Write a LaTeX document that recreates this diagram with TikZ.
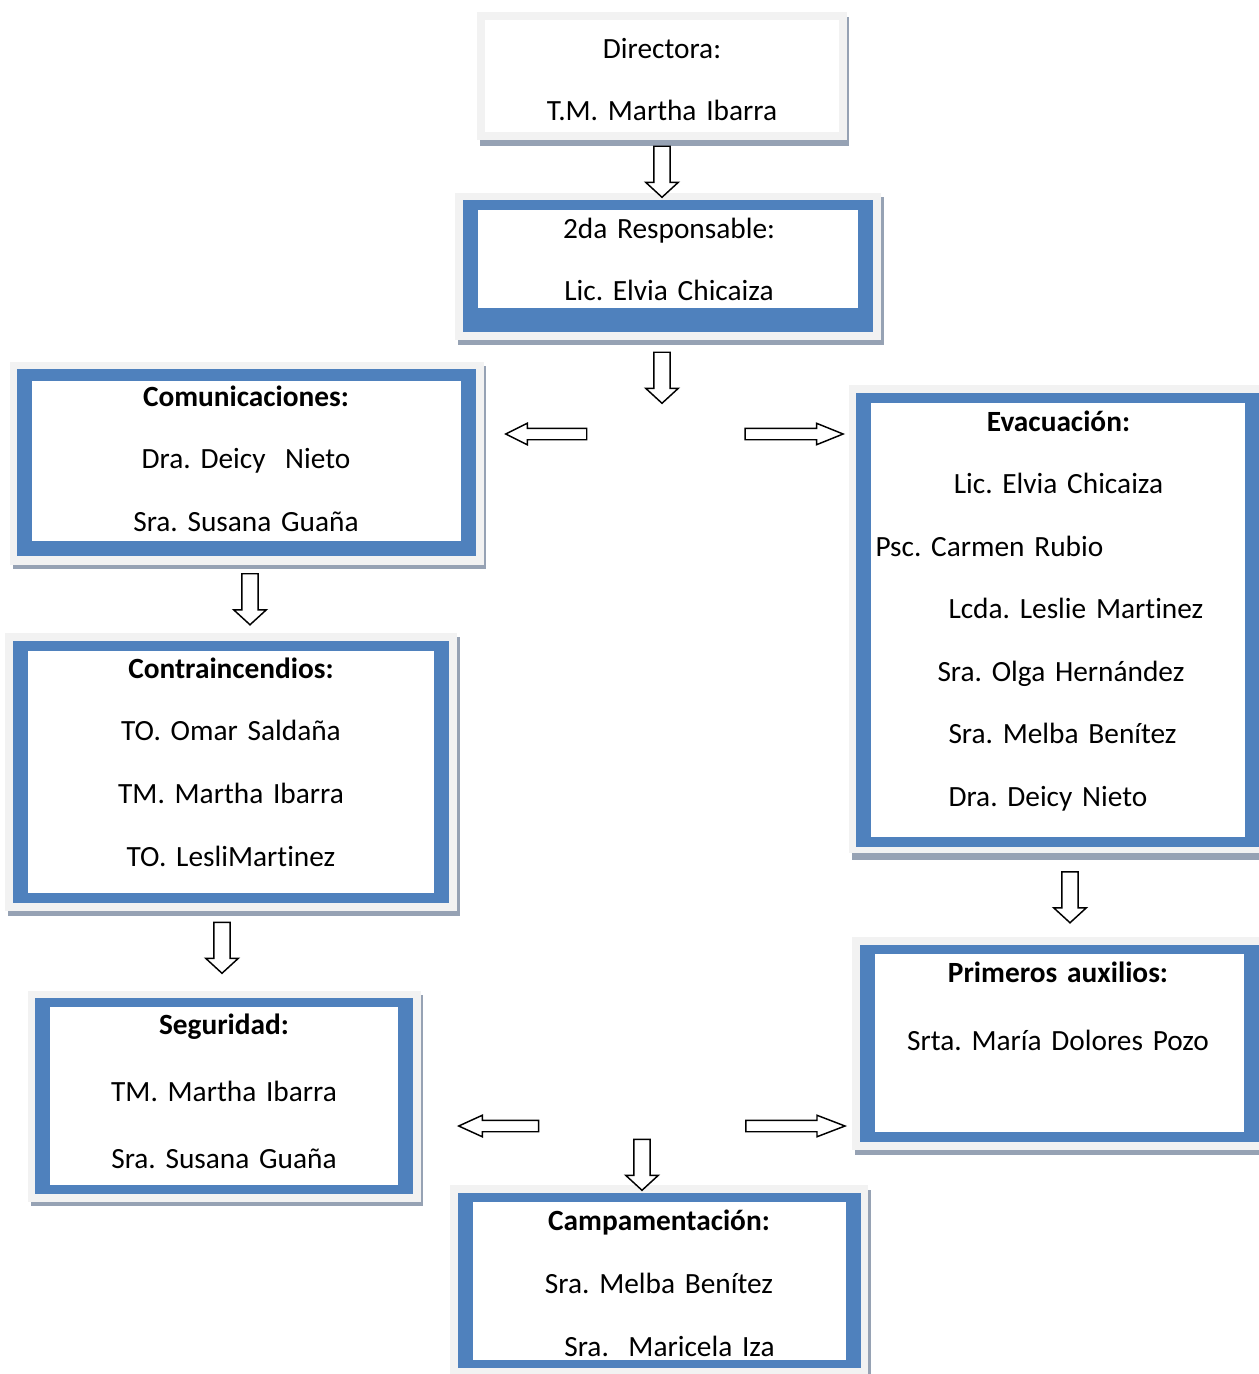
\documentclass[tikz,border=0pt]{standalone}
\usepackage{fontspec}
\setmainfont{Carlito}[Ligatures=NoCommon]
\frenchspacing
\usetikzlibrary{shapes.arrows}

\definecolor{azul}{RGB}{79,129,189}
\definecolor{marco}{RGB}{242,242,242}
\definecolor{sombra}{RGB}{150,162,180}

\tikzset{every picture/.style={line width=0.75pt}}
\tikzset{
  texto/.style={inner sep=0pt, align=center, text width=260pt, font=\fontsize{22}{46.5}\selectfont},
  flechav/.style={single arrow, draw, fill=white, line width=1.1pt, shape border rotate=270, inner sep=5.6pt, single arrow head extend=6pt, single arrow tip angle=95, minimum height=38.25pt},
  flechah/.style={single arrow, draw, fill=white, line width=1.1pt, inner sep=3.75pt, single arrow head extend=3.75pt},
}

\begin{document}
\begin{tikzpicture}[x=0.75pt,y=0.75pt,yscale=-1,xscale=1]
\useasboundingbox (0,0) rectangle (1259,1374);

%Shape: Rectangle [Directora]
\fill [sombra] (480,17) rectangle (849,146);
\fill [marco] (477,12) rectangle (847,140);
\fill [white] (485,20) rectangle (839,132);
%Shape: Rectangle [2da Responsable]
\fill [sombra] (458,197) rectangle (884,345);
\fill [marco] (455,193) rectangle (881,340);
\fill [azul] (463,200) rectangle (873,332);
\fill [white] (478,210) rectangle (858,308);
%Shape: Rectangle [Comunicaciones]
\fill [sombra] (13,366) rectangle (486,569);
\fill [marco] (10,362) rectangle (484,565);
\fill [azul] (17,369) rectangle (476,556);
\fill [white] (32,381) rectangle (461,541);
%Shape: Rectangle [Evacuacion]
\fill [sombra] (852,390) rectangle (1262,860);
\fill [marco] (849,385) rectangle (1262,853);
\fill [azul] (856,393) rectangle (1262,847);
\fill [white] (871,403) rectangle (1245,837);
%Shape: Rectangle [Primeros auxilios]
\fill [sombra] (855,942) rectangle (1262,1155);
\fill [marco] (852,937) rectangle (1262,1150);
\fill [azul] (860,945) rectangle (1262,1142);
\fill [white] (875,954) rectangle (1244,1132);
%Shape: Rectangle [Contraincendios]
\fill [sombra] (8,637) rectangle (460,916);
\fill [marco] (5,633) rectangle (457,911);
\fill [azul] (13,641) rectangle (449,903);
\fill [white] (28,651) rectangle (434,893);
%Shape: Rectangle [Seguridad]
\fill [sombra] (31,995) rectangle (423,1206);
\fill [marco] (28,991) rectangle (421,1202);
\fill [azul] (35,998) rectangle (413,1194);
\fill [white] (50,1007) rectangle (398,1185);
%Shape: Rectangle [Campamentacion]
\fill [sombra] (453,1190) rectangle (871,1380);
\fill [marco] (450,1185) rectangle (868,1376);
\fill [azul] (458,1193) rectangle (861,1368);
\fill [white] (473,1202) rectangle (846,1360);

% Text Node
\node [texto, anchor=base] (dir) at (662,58) {Directora:\\T.M. Martha Ibarra};
% Text Node
\node [texto, anchor=base] (resp) at (669,238) {2da Responsable:\\Lic. Elvia Chicaiza};
% Text Node
\node [texto, anchor=base, font=\fontsize{22}{46.9}\selectfont] (com) at (246,406) {\textbf{Comunicaciones:}\\Dra. Deicy~ Nieto\\Sra. Susana Guaña};
% Text Node
\node [texto, anchor=base west, align=left, text width=280.5pt, font=\fontsize{22}{46.9}\selectfont] (evac) at (871,431) {\makebox[\linewidth]{\textbf{Evacuación:}}\\\makebox[\linewidth]{Lic. Elvia Chicaiza}\\\hspace*{3pt}Psc. Carmen Rubio\\\hspace*{57.75pt}Lcda. Leslie Martinez\\\hspace*{49.5pt}Sra. Olga Hernández\\\hspace*{57.75pt}Sra. Melba Benítez\\\hspace*{57.75pt}Dra. Deicy Nieto};
% Text Node
\node [texto, anchor=base, font=\fontsize{22}{51}\selectfont] (prim) at (1058,982) {\textbf{Primeros auxilios:}\\Srta. María Dolores Pozo};
% Text Node
\node [texto, anchor=base, font=\fontsize{22}{47}\selectfont] (contra) at (231,678) {\textbf{Contraincendios:}\\TO. Omar Saldaña\\TM. Martha Ibarra\\TO. LesliMartinez};
% Text Node
\node [texto, anchor=base, font=\fontsize{22}{50.6}\selectfont] (seg) at (224,1034) {\textbf{Seguridad:}\\TM. Martha Ibarra\\Sra. Susana Guaña};
% Text Node
\node [texto, anchor=base, font=\fontsize{22}{47.25}\selectfont] (camp) at (659,1230) {\textbf{Campamentación:}\\Sra. Melba Benítez\\\hspace*{15.75pt}Sra.~ Maricela Iza};

%Shape: Down Arrow
\node [flechav] (bajo1) at (662,168) {};
\node [flechav] (bajo2) at (662,374) {};
\node [flechav] (bajo3) at (250,595.5) {};
\node [flechav] (bajo4) at (222,944) {};
\node [flechav] (bajo5) at (1070,893.5) {};
\node [flechav] (bajo6) at (642,1161) {};
%Shape: Left Arrow
\node [flechah, shape border rotate=180, minimum height=60.75pt, single arrow tip angle=53] (izq1) at (552,434) {};
\node [flechah, shape border rotate=180, minimum height=60pt, single arrow tip angle=49] (izq2) at (505,1126) {};
%Shape: Right Arrow
\node [flechah, minimum height=73.5pt, single arrow tip angle=44] (der1) at (787,434) {};
\node [flechah, minimum height=74.25pt, single arrow tip angle=42] (der2) at (788,1126) {};

\end{tikzpicture}
\end{document}
